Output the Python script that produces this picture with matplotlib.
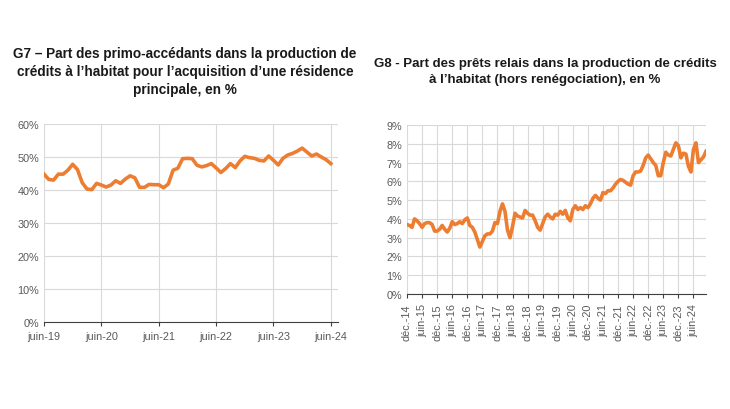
import matplotlib.pyplot as plt
import numpy as np

ORANGE = "#ED7D31"
GREY = "#595959"

# G7: monthly, juin-19 .. juin-24
g7_values = [44.8, 43.2, 43.0, 44.8, 44.8, 46.0, 47.8, 46.2, 42.2, 40.3, 40.1, 42.0,
             41.5, 40.9, 41.5, 42.8, 42.0, 43.3, 44.3, 43.7, 40.8, 40.8, 41.7, 41.6,
             41.6, 40.7, 41.8, 46.0, 46.6, 49.5, 49.6, 49.5, 47.5, 47.0, 47.4, 48.0,
             46.7, 45.3, 46.5, 48.0, 46.8, 48.8, 50.2, 49.8, 49.6, 49.0, 48.8, 50.3,
             49.0, 47.6, 49.6, 50.6, 51.1, 51.8, 52.7, 51.5, 50.3, 50.9, 50.0, 49.2, 48.0]
g7_ticklabels = ["juin-19", "juin-20", "juin-21", "juin-22", "juin-23", "juin-24"]

# G8: monthly, déc.-14 .. juin-24
g8_values = [3.7,
             3.65, 3.55, 4.0, 3.9, 3.75, 3.55,
             3.75, 3.8, 3.8, 3.7, 3.35, 3.35,
             3.45, 3.65, 3.45, 3.3, 3.5, 3.85,
             3.7, 3.75, 3.85, 3.75, 3.95, 4.05,
             3.65, 3.55, 3.3, 2.9, 2.5, 2.8,
             3.1, 3.2, 3.2, 3.35, 3.8, 3.75,
             4.4, 4.8, 4.4, 3.4, 3.0, 3.6,
             4.3, 4.15, 4.1, 4.05, 4.45, 4.3,
             4.2, 4.2, 3.9, 3.55, 3.4, 3.75,
             4.1, 4.25, 4.1, 4.0, 4.25, 4.2,
             4.4, 4.25, 4.45, 4.05, 3.9, 4.5,
             4.7, 4.5, 4.6, 4.5, 4.7, 4.6,
             4.8, 5.1, 5.25, 5.1, 5.0, 5.4,
             5.35, 5.5, 5.5, 5.65, 5.85, 6.0,
             6.1, 6.05, 5.95, 5.85, 5.8, 6.3,
             6.5, 6.5, 6.55, 6.85, 7.25, 7.4,
             7.2, 7.0, 6.85, 6.3, 6.3, 7.0,
             7.55, 7.4, 7.35, 7.7, 8.05, 7.9,
             7.25, 7.5, 7.45, 6.8, 6.5, 7.7,
             8.05, 7.0, 7.15, 7.3, 7.6]
g8_ticklabels = ["déc.-14", "juin-15", "déc.-15", "juin-16", "déc.-16", "juin-17",
                 "déc.-17", "juin-18", "déc.-18", "juin-19", "déc.-19", "juin-20",
                 "déc.-20", "juin-21", "déc.-21", "juin-22", "déc.-22", "juin-23",
                 "déc.-23", "juin-24"]

plt.rcParams["font.family"] = "Liberation Sans"

fig = plt.figure(figsize=(7.3, 4.1), dpi=100)
ax1 = fig.add_axes([44 / 730, 1 - 323 / 410, 294 / 730, 198 / 410])
ax2 = fig.add_axes([407 / 730, 1 - 295 / 410, 299 / 730, 169 / 410])


def style(ax):
    ax.grid(True, color="#D9D9D9", linewidth=0.8)
    ax.set_axisbelow(True)
    for s in ["top", "right", "left"]:
        ax.spines[s].set_visible(False)
    ax.spines["bottom"].set_color("#404040")
    ax.tick_params(axis="both", colors=GREY, labelsize=7.8, length=0)
    ax.tick_params(axis="x", length=3, color="#404040")


style(ax1)
ax1.plot(np.arange(len(g7_values)), g7_values, color=ORANGE, linewidth=2.6)
ax1.set_ylim(0, 60)
ax1.set_yticks(np.arange(0, 61, 10))
ax1.set_yticklabels([f"{v}%" for v in range(0, 61, 10)])
ax1.set_xlim(0, len(g7_values) + 0.5)
ax1.set_xticks(np.arange(0, len(g7_values), 12))
ax1.set_xticklabels(g7_ticklabels)

style(ax2)
ax2.plot(np.arange(len(g8_values)), g8_values, color=ORANGE, linewidth=2.6)
ax2.set_ylim(0, 9)
ax2.set_yticks(np.arange(0, 10))
ax2.set_yticklabels([f"{v}%" for v in range(10)])
ax2.set_xlim(0, len(g8_values) - 1)
ax2.set_xticks(np.arange(0, len(g8_values), 6))
ax2.set_xticklabels(g8_ticklabels, rotation=90, ha="center")

fig.text(185 / 730, 1 - 72 / 410,
         "G7 – Part des primo-accédants dans la production de\n"
         "crédits à l’habitat pour l’acquisition d’une résidence\n"
         "principale, en %",
         ha="center", va="center", fontsize=9.8, fontweight="bold", color="#1a1a1a",
         linespacing=1.4)
fig.text(545 / 730, 1 - 72 / 410,
         "G8 - Part des prêts relais dans la production de crédits\n"
         "à l’habitat (hors renégociation), en %",
         ha="center", va="center", fontsize=9.5, fontweight="bold", color="#1a1a1a",
         linespacing=1.4)

fig.savefig("out.png", dpi=100)
